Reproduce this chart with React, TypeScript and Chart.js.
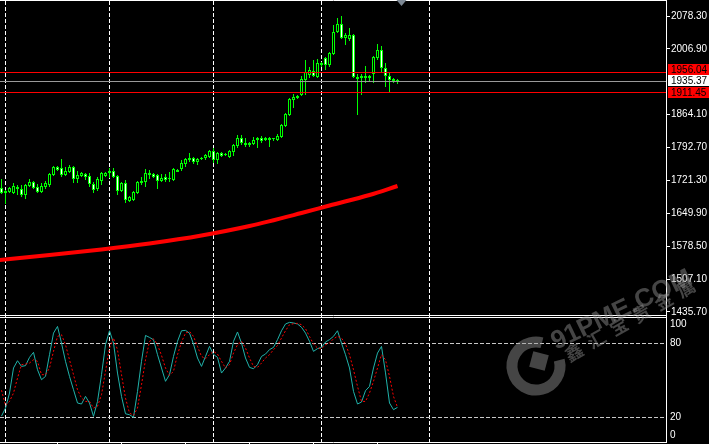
import { useEffect, useRef } from "react";
import { Chart, registerables } from "chart.js";
Chart.register(...registerables);

// ---------- data ----------
const openPrices = [1704.9, 1694.0, 1696.2, 1694.0, 1707.1, 1702.7, 1689.7, 1709.2, 1717.9, 1707.1,
  1696.2, 1707.1, 1711.4, 1733.1, 1750.5, 1748.3, 1733.1, 1739.6, 1750.5, 1724.4,
  1730.9, 1735.3, 1730.9, 1713.6, 1702.7, 1720.1, 1730.9, 1737.5, 1741.8, 1730.9,
  1698.4, 1715.8, 1676.7, 1678.8, 1694.0, 1715.8, 1717.9, 1737.5, 1735.3, 1733.1,
  1720.1, 1728.8, 1724.4, 1722.3, 1744.0, 1746.1, 1757.0, 1765.7, 1770.0, 1761.3,
  1767.9, 1770.0, 1772.2, 1785.2, 1765.7, 1780.9, 1776.5, 1772.2, 1783.1, 1796.1,
  1813.4, 1798.2, 1798.2, 1800.4, 1809.1, 1813.4, 1813.4, 1809.1, 1811.3, 1809.1,
  1815.6, 1839.5, 1863.4, 1895.9, 1900.3, 1906.8, 1939.4, 1950.2, 1958.9, 1945.9,
  1971.9, 1987.1, 1971.9, 1995.8, 2043.6, 2060.9, 2030.5, 2028.4, 2037.1, 1941.5,
  1948.0, 1943.7, 1948.0, 1952.4, 1987.1, 2004.5, 1965.4, 1948.0, 1937.2, 1939.4];
const highPrices = [1724.4, 1700.6, 1707.1, 1715.8, 1711.4, 1711.4, 1713.6, 1724.4, 1720.1, 1713.6,
  1715.8, 1720.1, 1737.5, 1752.7, 1752.7, 1767.9, 1750.5, 1754.8, 1752.7, 1741.8,
  1739.6, 1737.5, 1737.5, 1717.9, 1728.8, 1739.6, 1739.6, 1748.3, 1748.3, 1733.1,
  1717.9, 1722.3, 1687.5, 1698.4, 1720.1, 1728.8, 1746.1, 1744.0, 1737.5, 1735.3,
  1735.3, 1735.3, 1739.6, 1748.3, 1746.1, 1765.7, 1770.0, 1780.9, 1772.2, 1770.0,
  1772.2, 1778.7, 1787.4, 1791.7, 1783.1, 1783.1, 1780.9, 1787.4, 1800.4, 1820.0,
  1820.0, 1813.4, 1804.8, 1815.6, 1815.6, 1817.8, 1815.6, 1815.6, 1813.4, 1822.1,
  1843.8, 1867.7, 1900.3, 1909.0, 1906.8, 1948.0, 1982.8, 1967.6, 1982.8, 1985.0,
  1978.4, 1989.3, 2000.2, 2058.8, 2074.0, 2078.3, 2041.4, 2052.3, 2039.2, 1952.4,
  1952.4, 1969.8, 1950.2, 1991.5, 2017.5, 2013.2, 1976.3, 1956.7, 1943.7, 1941.5];
const lowPrices = [1691.9, 1670.2, 1694.0, 1691.9, 1689.7, 1685.4, 1681.0, 1707.1, 1702.7, 1694.0,
  1694.0, 1702.7, 1707.1, 1730.9, 1741.8, 1728.8, 1730.9, 1737.5, 1715.8, 1715.8,
  1728.8, 1722.3, 1707.1, 1694.0, 1698.4, 1711.4, 1728.8, 1726.6, 1726.6, 1689.7,
  1696.2, 1672.3, 1674.5, 1676.7, 1691.9, 1711.4, 1707.1, 1724.4, 1726.6, 1702.7,
  1717.9, 1717.9, 1717.9, 1720.1, 1739.6, 1741.8, 1750.5, 1761.3, 1757.0, 1754.8,
  1765.7, 1765.7, 1770.0, 1759.2, 1757.0, 1772.2, 1774.4, 1770.0, 1774.4, 1791.7,
  1798.2, 1793.9, 1793.9, 1798.2, 1791.7, 1802.6, 1806.9, 1793.9, 1806.9, 1806.9,
  1813.4, 1837.3, 1861.2, 1878.6, 1898.1, 1904.6, 1906.8, 1943.7, 1945.9, 1943.7,
  1967.6, 1961.1, 1967.6, 1993.6, 2041.4, 2028.4, 2015.3, 2024.0, 1943.7, 1863.4,
  1906.8, 1932.9, 1935.0, 1932.9, 1982.8, 1956.7, 1924.2, 1913.3, 1932.9, 1930.7];
const closePrices = [1694.0, 1698.4, 1704.9, 1709.2, 1702.7, 1689.7, 1711.4, 1717.9, 1704.9, 1696.2,
  1709.2, 1715.8, 1735.3, 1750.5, 1744.0, 1733.1, 1741.8, 1750.5, 1724.4, 1733.1,
  1737.5, 1728.8, 1713.6, 1700.6, 1724.4, 1737.5, 1737.5, 1741.8, 1728.8, 1698.4,
  1715.8, 1678.8, 1685.4, 1696.2, 1717.9, 1720.1, 1737.5, 1733.1, 1728.8, 1720.1,
  1726.6, 1722.3, 1726.6, 1746.1, 1739.6, 1759.2, 1767.9, 1770.0, 1761.3, 1767.9,
  1770.0, 1776.5, 1785.2, 1765.7, 1780.9, 1774.4, 1778.7, 1785.2, 1798.2, 1813.4,
  1802.6, 1802.6, 1802.6, 1809.1, 1813.4, 1806.9, 1809.1, 1813.4, 1813.4, 1817.8,
  1841.7, 1865.6, 1898.1, 1902.5, 1904.6, 1941.5, 1956.7, 1961.1, 1948.0, 1976.3,
  1976.3, 1971.9, 1998.0, 2043.6, 2060.9, 2030.5, 2037.1, 2037.1, 1945.9, 1945.9,
  1943.7, 1948.0, 1943.7, 1989.3, 2004.5, 1965.4, 1948.0, 1939.4, 1941.5, 1935.37];

const maBars = [-1, 12, 25, 37, 50, 62, 75, 82, 92, 99];
const maValues = [1547.9, 1559.4, 1571.4, 1584.4, 1601.8, 1622.4, 1650.6, 1666.9, 1689.7, 1709.2];

const stochMain = [21, 27.5, 39.7, 60.0, 65.9, 61.3, 61.9, 68.6, 72.7, 58.6,
  50.5, 53.2, 70.8, 88.3, 93.7, 80.2, 65.4, 53.2, 42.4, 31.6,
  30.8, 37.0, 31.6, 20.8, 32.9, 54.6, 78.9, 90.2, 80.2, 55.9,
  37.0, 22.9, 22.1, 20.0, 41.0, 65.4, 86.4, 84.8, 82.9, 70.8,
  60.0, 49.2, 54.6, 69.4, 81.6, 90.2, 90.5, 88.3, 79.4, 68.1,
  61.3, 69.4, 77.5, 71.0, 68.6, 55.9, 60.0, 65.4, 81.6, 89.2,
  80.2, 68.1, 60.5, 59.4, 62.7, 69.4, 71.3, 74.9, 76.7, 83.0,
  90.2, 95.7, 97.0, 96.5, 95.7, 93.0, 88.3, 81.6, 73.5, 75.7,
  76.7, 81.1, 83.0, 85.7, 90.2, 80.2, 70.8, 60.0, 41.0, 30.8,
  32.4, 41.6, 45.1, 60.0, 72.1, 77.5, 56.0, 31.6, 26.2, 28.1];
const stochSignal = [42, 29.7, 32.9, 39.7, 51.8, 62.7, 63.2, 64.0, 66.7, 65.4,
  54.6, 54.6, 60.0, 73.5, 85.6, 87.0, 78.9, 66.7, 54.6, 42.4,
  35.6, 32.9, 32.9, 27.5, 28.9, 38.3, 57.3, 76.2, 84.3, 74.8,
  54.6, 35.6, 23.5, 21.6, 27.5, 46.4, 66.7, 81.6, 83.7, 78.9,
  70.2, 60.0, 54.0, 57.3, 70.8, 81.0, 88.3, 89.7, 85.6, 77.5,
  69.4, 67.5, 70.8, 73.5, 71.3, 65.4, 60.0, 62.7, 72.1, 78.9,
  81.6, 76.2, 68.1, 61.3, 60.5, 64.0, 68.1, 70.8, 74.8, 78.3,
  84.3, 90.2, 95.1, 95.9, 96.2, 95.1, 91.9, 85.6, 79.4, 76.2,
  75.6, 78.9, 80.2, 83.7, 85.6, 84.3, 79.4, 70.8, 58.6, 45.1,
  32.9, 32.9, 39.7, 49.2, 60.0, 70.8, 66.7, 53.2, 37.0, 28.1];

const priceTicks = [2078.3, 2006.9, 1864.1, 1792.7, 1721.3, 1649.9, 1578.5, 1507.1, 1435.7];
const redLevels = [1956.04, 1911.45];
const bidPrice = 1935.37;
const stochLevels = [80, 20];
const stochLabels = [100, 80, 20, 0];
const gridBars = [1, 27, 53, 80, 107];
const timeTickBars = [14, 30, 46, 62, 78, 94];
const shiftBar = 100;

const FONT = "'Liberation Sans', Arial, sans-serif";
const LIME = "#00ff00";

const mtPlugin = {
  id: "mt4",
  beforeDraw(chart: any) {
    const { ctx, width, height } = chart;
    ctx.save();
    ctx.fillStyle = "#000";
    ctx.fillRect(0, 0, width, height);
    ctx.restore();
  },
  beforeDatasetsDraw(chart: any) {
    const { ctx, chartArea: a, scales } = chart;
    const xs = scales.x, y2 = scales.y2;
    ctx.save();
    ctx.lineWidth = 1;
    ctx.strokeStyle = "#ffffff";
    ctx.setLineDash([4, 2]);
    for (const b of gridBars) {
      const px = Math.floor(xs.getPixelForValue(b)) + 0.5;
      ctx.beginPath();
      ctx.moveTo(px, a.top + 1);
      ctx.lineTo(px, a.bottom);
      ctx.stroke();
    }
    ctx.strokeStyle = "#c8c8c8";
    for (const v of stochLevels) {
      const py = Math.floor(y2.getPixelForValue(v)) + 0.5;
      ctx.beginPath();
      ctx.moveTo(a.left, py);
      ctx.lineTo(a.right, py);
      ctx.stroke();
    }
    ctx.restore();
  },
  afterDatasetsDraw(chart: any) {
    const { ctx, chartArea: a, scales } = chart;
    const xs = scales.x, y = scales.y, y2 = scales.y2;
    ctx.save();
    ctx.lineWidth = 1;
    ctx.setLineDash([]);
    ctx.strokeStyle = "#ff0000";
    for (const p of redLevels) {
      const py = Math.floor(y.getPixelForValue(p)) + 0.5;
      ctx.beginPath(); ctx.moveTo(a.left, py); ctx.lineTo(a.right, py); ctx.stroke();
    }
    ctx.strokeStyle = "#9a9a9a";
    {
      const py = Math.floor(y.getPixelForValue(bidPrice)) + 0.5;
      ctx.beginPath(); ctx.moveTo(a.left, py); ctx.lineTo(a.right, py); ctx.stroke();
    }
    // panel borders
    ctx.strokeStyle = "#ffffff";
    const hl = (py: number) => { ctx.beginPath(); ctx.moveTo(a.left, py); ctx.lineTo(a.right + 1, py); ctx.stroke(); };
    hl(a.top + 0.5);
    hl(y.bottom - 0.5);
    hl(y2.top + 1.5);
    hl(a.bottom + 0.5);
    // time ticks below
    for (const b of timeTickBars) {
      const px = Math.floor(xs.getPixelForValue(b)) + 0.5;
      ctx.beginPath(); ctx.moveTo(px, a.bottom); ctx.lineTo(px, a.bottom + 3); ctx.stroke();
    }
    // chart shift marker
    const sx = xs.getPixelForValue(shiftBar);
    ctx.fillStyle = "#7d8894";
    ctx.beginPath();
    ctx.moveTo(sx - 5, a.top);
    ctx.lineTo(sx + 5, a.top);
    ctx.lineTo(sx, a.top + 6);
    ctx.closePath();
    ctx.fill();
    ctx.restore();
  },
  afterDraw(chart: any) {
    const { ctx, chartArea: a, scales } = chart;
    const y = scales.y, y2 = scales.y2;
    ctx.save();
    ctx.font = `10px ${FONT}`;
    ctx.textBaseline = "middle";
    ctx.textAlign = "left";
    // price label boxes
    const bidC = y.getPixelForValue(bidPrice) - 1;
    const boxes: { c: number; bg: string; t: string }[] = [
      { c: bidC, bg: "#ffffff", t: bidPrice.toFixed(2) },
    ];
    for (const p of redLevels) {
      let c = y.getPixelForValue(p);
      if (c < bidC) c = Math.min(c, bidC - 11); else c = Math.max(c, bidC + 11);
      boxes.push({ c, bg: "#ff0000", t: p.toFixed(2) });
    }
    for (const b of boxes) {
      ctx.fillStyle = b.bg;
      ctx.fillRect(a.right + 2, Math.round(b.c - 5.5), 43, 11);
      ctx.fillStyle = "#000";
      ctx.fillText(b.t, a.right + 5, Math.round(b.c) + 0.5);
    }
    // stochastic labels (kept inside the panel)
    ctx.fillStyle = "#ffffff";
    const lo = y2.top + 8.7, hi = y2.bottom - 6.3;
    for (const v of stochLabels) {
      const py = Math.min(hi, Math.max(lo, y2.getPixelForValue(v)));
      ctx.fillText(String(v), a.right + 4, py);
    }
    ctx.restore();

    // watermark
    ctx.save();
    ctx.globalAlpha = 0.45;
    ctx.strokeStyle = "#9a9a9a";
    ctx.fillStyle = "#9a9a9a";
    ctx.lineWidth = 11;
    ctx.beginPath();
    ctx.arc(536, 366, 24, -0.08 * Math.PI, 1.58 * Math.PI);
    ctx.stroke();
    ctx.save();
    ctx.translate(539, 361);
    ctx.rotate(0.26);
    ctx.fillRect(-8, -8, 16, 16);
    ctx.restore();
    ctx.save();
    ctx.translate(556, 350);
    ctx.rotate(-0.45);
    ctx.font = `bold 26px ${FONT}`;
    ctx.textBaseline = "alphabetic";
    ctx.fillText("91PME.COM", 0, 0);
    ctx.restore();
    ctx.font = "bold 18px 'Noto Sans CJK SC'";
    ctx.textAlign = "center";
    ctx.textBaseline = "middle";
    const chars = "鑫汇宝贵金属";
    for (let i = 0; i < chars.length; i++) {
      ctx.save();
      ctx.translate(574 + i * 22.4, 352 - i * 12.8);
      ctx.rotate(-0.52);
      ctx.fillText(chars[i], 0, 0);
      ctx.restore();
    }
    ctx.restore();
  },
};

const noPad = (s: any) => {
  s.width = 43;
  s.paddingTop = 0;
  s.paddingBottom = 0;
};

export default function App() {
  const ref = useRef<HTMLCanvasElement>(null);
  useEffect(() => {
    document.body.style.margin = "0";
    document.body.style.background = "#000";
    const idx = openPrices.map((_, i) => i);
    const chart = new Chart(ref.current as HTMLCanvasElement, {
      type: "bar",
      data: {
        datasets: [
          {
            type: "bar",
            label: "body",
            data: idx.map((i) => ({ x: i, y: [openPrices[i], closePrices[i]] })) as any,
            backgroundColor: idx.map((i) => (closePrices[i] >= openPrices[i] ? "#000000" : "#ffffff")),
            borderColor: LIME,
            borderWidth: 1,
            borderSkipped: false,
            barThickness: 3,
            grouped: false,
            inflateAmount: 0,
            yAxisID: "y",
            order: 1,
          } as any,
          {
            type: "bar",
            label: "wick",
            data: idx.map((i) => ({ x: i, y: [lowPrices[i], highPrices[i]] })) as any,
            backgroundColor: LIME,
            borderWidth: 0,
            barThickness: 1,
            grouped: false,
            inflateAmount: 0,
            yAxisID: "y",
            order: 2,
          } as any,
          {
            type: "line",
            label: "MA",
            data: maBars.map((b, k) => ({ x: b, y: maValues[k] })),
            borderColor: "#ff0000",
            borderWidth: 4,
            pointRadius: 0,
            cubicInterpolationMode: "monotone",
            yAxisID: "y",
            order: 3,
          } as any,
          {
            type: "line",
            label: "%D",
            data: idx.map((i) => ({ x: i, y: stochSignal[i] })),
            borderColor: "#ff0000",
            borderWidth: 1,
            borderDash: [2, 2],
            pointRadius: 0,
            tension: 0,
            yAxisID: "y2",
            order: 4,
          } as any,
          {
            type: "line",
            label: "%K",
            data: idx.map((i) => ({ x: i, y: stochMain[i] })),
            borderColor: "#20b2aa",
            borderWidth: 1,
            pointRadius: 0,
            tension: 0,
            yAxisID: "y2",
            order: 5,
          } as any,
        ],
      },
      options: {
        animation: false,
        responsive: false,
        devicePixelRatio: 1,
        events: [],
        layout: { padding: { top: 0, left: 0, right: 0, bottom: 2 }, autoPadding: false } as any,
        plugins: { legend: { display: false }, tooltip: { enabled: false } },
        scales: {
          x: { type: "linear", min: -0.375, max: 166.125, display: false, offset: false },
          y: {
            type: "linear",
            position: "right",
            stack: "panes",
            stackWeight: 316,
            min: 1427.0,
            max: 2113.04,
            afterBuildTicks: (s: any) => { s.ticks = priceTicks.map((v) => ({ value: v })); },
            afterFit: noPad,
            grid: { display: true, drawOnChartArea: false, drawTicks: true, tickLength: 4, color: "#ffffff", lineWidth: 1 },
            border: { display: true, color: "#ffffff", width: 1 },
            ticks: {
              color: "#ffffff",
              font: { family: FONT, size: 10 },
              padding: 1,
              autoSkip: false,
              maxRotation: 0,
              callback: (v: any) => Number(v).toFixed(2),
            },
          } as any,
          y2: {
            type: "linear",
            position: "right",
            stack: "panes",
            stackWeight: 126,
            min: 0,
            max: 102.16,
            afterFit: noPad,
            grid: { display: false },
            border: { display: true, color: "#ffffff", width: 1 },
            ticks: { display: false },
          } as any,
        },
      },
      plugins: [mtPlugin],
    });
    return () => chart.destroy();
  }, []);
  return (
    <div style={{ position: "fixed", left: 0, top: 0, width: 709, height: 444, background: "#000" }}>
      <canvas ref={ref} width={709} height={444} style={{ display: "block", width: 709, height: 444 }} />
    </div>
  );
}
